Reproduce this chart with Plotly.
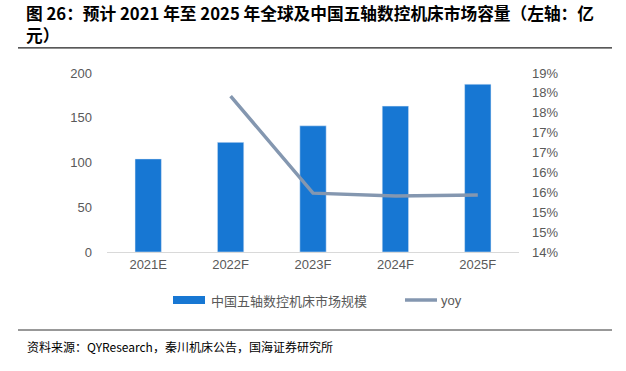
import plotly.graph_objects as go

categories = ["2021E", "2022F", "2023F", "2024F", "2025F"]
market_size = [104, 122.5, 141, 163, 187.5]
yoy_cats = ["2022F", "2023F", "2024F", "2025F"]
yoy = [0.1792, 0.1548, 0.1541, 0.1543]
left_ticks = [0, 50, 100, 150, 200]
right_tickvals = [0.14, 0.145, 0.15, 0.155, 0.16, 0.165, 0.17, 0.175, 0.18, 0.185]
right_ticktext = ["14%", "15%", "15%", "16%", "16%", "17%", "17%", "18%", "18%", "19%"]

font_main = "Liberation Sans, Arial, sans-serif"
cjk = "Noto Sans CJK SC, sans-serif"

L, R, T, B = 107, 107, 73, 119
PW, PH = 626 - L - R, 371 - T - B


def px_x(x):
    return (x - L) / PW


def px_y(y):
    return (371 - B - y) / PH


fig = go.Figure()
fig.add_trace(go.Bar(
    x=categories, y=market_size, name="中国五轴数控机床市场规模",
    marker=dict(color="#1777d3"), width=0.32, yaxis="y",
))
fig.add_trace(go.Scatter(
    x=yoy_cats, y=yoy, name="yoy", mode="lines",
    line=dict(color="#8497b0", width=3.5), yaxis="y2",
))

fig.update_layout(
    width=626, height=371,
    paper_bgcolor="white", plot_bgcolor="white",
    margin=dict(l=L, r=R, t=T, b=B, autoexpand=False),
    showlegend=False,
    xaxis=dict(type="category", showgrid=False, showline=True, linecolor="#d9d9d9",
               linewidth=1, ticks="", tickfont=dict(family=font_main, size=13, color="#595959")),
    yaxis=dict(range=[0, 200], tickvals=left_ticks, showgrid=False, zeroline=False,
               ticks="", tickfont=dict(family=font_main, size=13, color="#595959"),
               ticklabelstandoff=14),
    yaxis2=dict(range=[0.14, 0.185], overlaying="y", side="right",
                tickvals=right_tickvals, ticktext=right_ticktext,
                showgrid=False, zeroline=False, ticks="",
                tickfont=dict(family=font_main, size=13, color="#595959"),
                ticklabelstandoff=12),
)

# Title (two lines in one text block)
fig.add_annotation(
    text="<b>图 26：预计 2021 年至 2025 年全球及中国五轴数控机床市场容量（左轴：亿</b><br><b>元）</b>",
    xref="paper", yref="paper", x=px_x(24), y=px_y(23.5),
    xanchor="left", yanchor="middle", align="left", showarrow=False,
    font=dict(family=cjk, size=16.7, color="#000000"))
# Source
fig.add_annotation(
    text="资料来源：QYResearch，秦川机床公告，国海证券研究所",
    xref="paper", yref="paper", x=px_x(25), y=px_y(346),
    xanchor="left", yanchor="middle", showarrow=False,
    font=dict(family=cjk, size=12, color="#000000"))

# Custom legend
fig.add_shape(type="rect", xref="paper", yref="paper",
              x0=px_x(173), x1=px_x(205), y0=px_y(304), y1=px_y(296),
              fillcolor="#1777d3", line=dict(width=0))
fig.add_annotation(
    text="中国五轴数控机床市场规模",
    xref="paper", yref="paper", x=px_x(209), y=px_y(300),
    xanchor="left", yanchor="middle", showarrow=False,
    font=dict(family=cjk, size=13, color="#595959"))
fig.add_shape(type="line", xref="paper", yref="paper",
              x0=px_x(405), x1=px_x(437), y0=px_y(300), y1=px_y(300),
              line=dict(color="#8497b0", width=3.5))
fig.add_annotation(
    text="yoy",
    xref="paper", yref="paper", x=px_x(439), y=px_y(300),
    xanchor="left", yanchor="middle", showarrow=False,
    font=dict(family=font_main, size=13, color="#595959"))

# Separator rules
fig.add_shape(type="rect", xref="paper", yref="paper",
              x0=px_x(18), x1=px_x(612), y0=px_y(48.5), y1=px_y(47.2),
              fillcolor="#222222", line=dict(width=0))
fig.add_shape(type="line", xref="paper", yref="paper",
              x0=px_x(18), x1=px_x(612), y0=px_y(330), y1=px_y(330),
              line=dict(color="#333333", width=1))

fig.write_html("out.html", config={"displayModeBar": False},
               post_script="document.body.style.margin='0px';")
